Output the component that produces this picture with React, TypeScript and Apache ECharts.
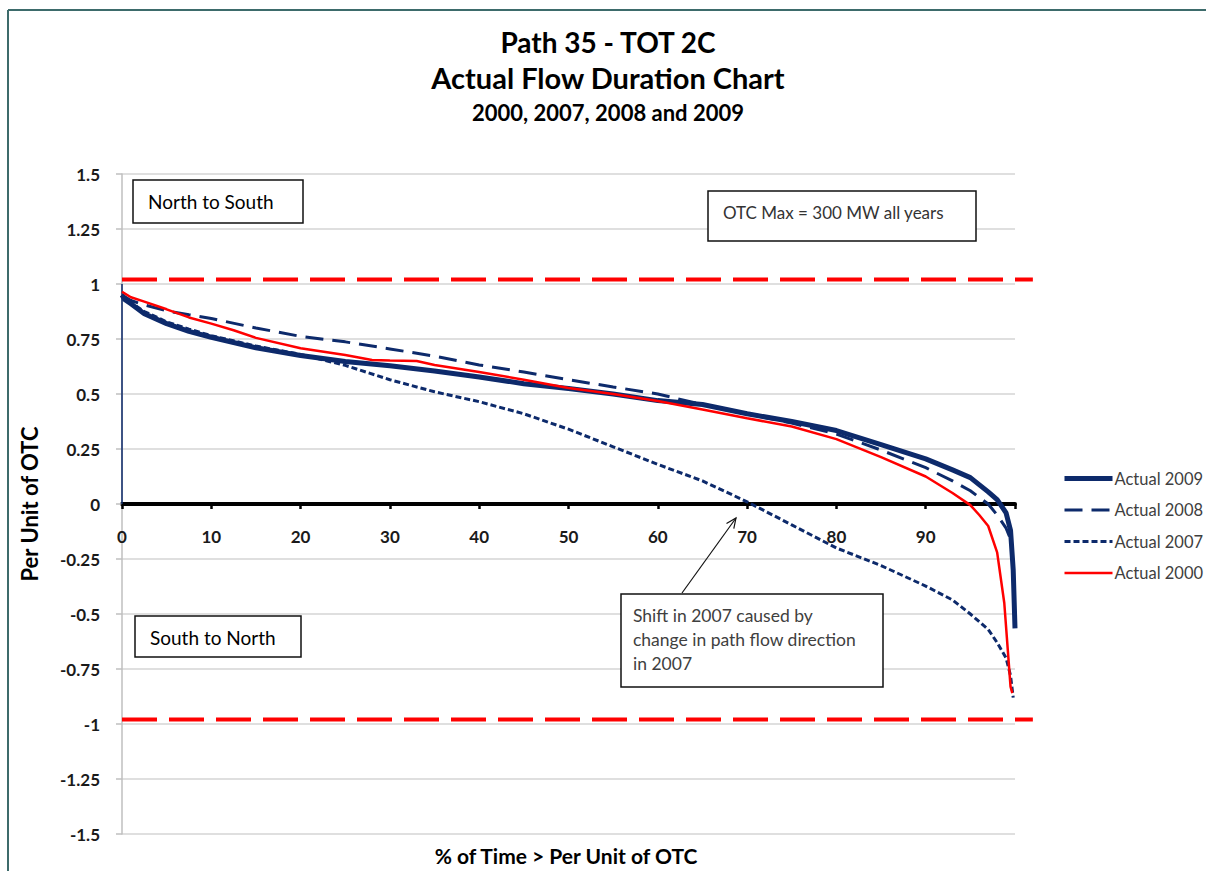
import React, { useEffect, useRef } from "react";
import * as echarts from "echarts";

// ---- data ----
const limitX = [0, 102];
const upperLimitY = [1.02, 1.02];
const lowerLimitY = [-0.98, -0.98];
const edgeX = [0, 0];
const edgeY = [0, 1.0];

const x2009 = [0, 0.3, 1, 2.5, 5, 7.5, 10, 15, 20, 25, 30, 35, 40, 45, 50, 55, 60, 65, 70, 75, 80, 85, 90, 93, 95, 97, 98, 99, 99.5, 99.8, 100];
const y2009 = [0.95, 0.93, 0.91, 0.865, 0.82, 0.785, 0.758, 0.71, 0.675, 0.648, 0.628, 0.605, 0.577, 0.547, 0.525, 0.5, 0.47, 0.452, 0.41, 0.375, 0.334, 0.27, 0.205, 0.155, 0.12, 0.055, 0.02, -0.04, -0.12, -0.3, -0.565];

const x2008 = [0, 1, 2.5, 5, 7.5, 10, 15, 20, 25, 30, 35, 40, 45, 50, 55, 60, 65, 70, 75, 80, 85, 90, 93, 95, 97, 98, 99, 99.5];
const y2008 = [0.95, 0.925, 0.905, 0.878, 0.86, 0.843, 0.8, 0.762, 0.737, 0.705, 0.672, 0.632, 0.6, 0.565, 0.532, 0.5, 0.452, 0.41, 0.368, 0.318, 0.245, 0.165, 0.105, 0.06, 0.0, -0.05, -0.11, -0.16];

const x2007 = [0, 1, 2.5, 5, 7.5, 10, 15, 20, 25, 30, 35, 40, 45, 50, 55, 60, 65, 70, 75, 80, 85, 90, 93, 95, 97, 98, 99, 99.5, 99.8];
const y2007 = [0.95, 0.915, 0.875, 0.828, 0.795, 0.765, 0.718, 0.68, 0.63, 0.565, 0.51, 0.465, 0.41, 0.34, 0.26, 0.18, 0.105, 0.01, -0.095, -0.2, -0.28, -0.373, -0.436, -0.5, -0.57, -0.63, -0.7, -0.78, -0.88];

const x2000 = [0, 1, 2.5, 5, 7.5, 10, 12.5, 15, 20, 25, 28, 30, 33, 35, 40, 45, 50, 55, 60, 65, 70, 75, 80, 85, 90, 93, 95, 96, 97, 98, 98.8, 99.5, 99.7];
const y2000 = [0.965, 0.94, 0.92, 0.885, 0.848, 0.82, 0.79, 0.755, 0.708, 0.677, 0.655, 0.652, 0.65, 0.632, 0.6, 0.565, 0.527, 0.5, 0.468, 0.43, 0.39, 0.352, 0.295, 0.213, 0.125, 0.05, -0.005, -0.05, -0.1, -0.22, -0.45, -0.83, -0.86];

const seriesNames = ["Actual 2009", "Actual 2008", "Actual 2007", "Actual 2000"];
const legendWidths = [5, 3, 3, 2.5];

const titleLines = ["Path 35 - TOT 2C", "Actual Flow Duration Chart", "2000, 2007, 2008 and 2009"];
const yAxisTitle = "Per Unit of OTC";
const xAxisTitle = "% of Time > Per Unit of OTC";
const noteNorth = "North to South";
const noteSouth = "South to North";
const noteOtc = "OTC Max = 300 MW all years";
const noteShift = ["Shift in 2007 caused by", "change in path flow direction", "in 2007"];

const pairs = (xs: number[], ys: number[]) => xs.map((x, i) => [x, ys[i]]);

const NAVY = "#0d2a6b";
const RED = "#ff0000";
const FONT = "Lato";

function txt(text: string, x: number, y: number, size: number, weight: string, align: string, color = "#000", extra: any = {}) {
  return {
    type: "text",
    x,
    y,
    silent: true,
    ...extra,
    style: {
      text,
      fontFamily: FONT,
      fontSize: size,
      fontWeight: weight,
      fill: color,
      textAlign: align,
      align,
      textVerticalAlign: "middle",
      verticalAlign: "middle",
    },
  };
}

function box(x: number, y: number, w: number, h: number) {
  return {
    type: "rect",
    silent: true,
    shape: { x, y, width: w, height: h },
    style: { fill: "#fff", stroke: "#111", lineWidth: 1.5 },
    z: 10,
  };
}

// arrow from box to crossing point
const arrowFrom = [682, 593];
const arrowTo = [736, 518];
const ax = arrowTo[0] - arrowFrom[0];
const ay = arrowTo[1] - arrowFrom[1];
const alen = Math.sqrt(ax * ax + ay * ay);
const ux = ax / alen;
const uy = ay / alen;
const headBase = [arrowTo[0] - 10 * ux, arrowTo[1] - 10 * uy];
const headL = [headBase[0] - 4.5 * uy, headBase[1] + 4.5 * ux];
const headR = [headBase[0] + 4.5 * uy, headBase[1] - 4.5 * ux];

const staticGraphic: any[] = [
  { type: "line", silent: true, shape: { x1: 8, y1: 10, x2: 1206, y2: 10 }, style: { stroke: "#3d6b6b", lineWidth: 2 } },
  { type: "line", silent: true, shape: { x1: 8, y1: 10, x2: 8, y2: 871 }, style: { stroke: "#3d6b6b", lineWidth: 2 } },
  txt(titleLines[0], 608, 42, 28, "bold", "center"),
  txt(titleLines[1], 608, 77, 29, "bold", "center"),
  txt(titleLines[2], 608, 112, 22, "bold", "center"),
  txt(yAxisTitle, 29, 504, 22, "bold", "center", "#000", { rotation: Math.PI / 2 }),
  txt(xAxisTitle, 566, 855, 21, "bold", "center"),
  box(133, 180, 170, 43),
  txt(noteNorth, 148, 201, 19, "normal", "left", "#000", { z: 11 }),
  box(708, 191, 268, 50),
  txt(noteOtc, 723, 212, 17, "normal", "left", "#333", { z: 11 }),
  box(135, 616, 166, 41),
  txt(noteSouth, 150, 637, 19, "normal", "left", "#000", { z: 11 }),
  box(621, 594, 262, 93),
  txt(noteShift[0], 633, 615, 17.5, "normal", "left", "#404040", { z: 11 }),
  txt(noteShift[1], 633, 639, 17.5, "normal", "left", "#404040", { z: 11 }),
  txt(noteShift[2], 633, 663, 17.5, "normal", "left", "#404040", { z: 11 }),
  {
    type: "line",
    silent: true,
    shape: { x1: arrowFrom[0], y1: arrowFrom[1], x2: arrowTo[0], y2: arrowTo[1] },
    style: { stroke: "#111", lineWidth: 1.2 },
    z: 11,
  },
  {
    type: "polyline",
    silent: true,
    shape: { points: [headL, arrowTo, headR] },
    style: { stroke: "#111", lineWidth: 1.2, fill: null },
    z: 11,
  },
];

const option: any = {
  animation: false,
  backgroundColor: "#fff",
  grid: { left: 122, right: 191, top: 174, bottom: 37, containLabel: false },
  legend: {
    data: seriesNames.map((name, i) => ({ name, lineStyle: { width: legendWidths[i] } })),
    orient: "vertical",
    left: 1062,
    top: 470,
    padding: 0,
    itemWidth: 48,
    itemHeight: 14,
    itemGap: 14.5,
    itemStyle: { opacity: 0 },
    textStyle: { fontFamily: FONT, fontSize: 16.5, color: "#404040", padding: [0, 0, 0, -3] },
  },
  xAxis: {
    type: "value",
    min: 0,
    max: 100,
    interval: 10,
    axisLine: { show: true, onZero: true, lineStyle: { color: "#000", width: 4 } },
    axisTick: { show: true, length: 5, lineStyle: { color: "#000", width: 2.5 } },
    axisLabel: {
      margin: -306,
      fontFamily: FONT,
      fontWeight: "bold",
      fontSize: 17,
      color: "#1a1a1a",
      formatter: (v: number) => (v === 100 ? "" : String(v)),
    },
    splitLine: { show: false },
  },
  yAxis: {
    type: "value",
    min: -1.5,
    max: 1.5,
    interval: 0.25,
    axisLine: { show: true, onZero: false, lineStyle: { color: "#bfbfbf", width: 1.5 } },
    axisTick: { show: true, length: 6, lineStyle: { color: "#bfbfbf", width: 1.5 } },
    axisLabel: { margin: 22, fontFamily: FONT, fontWeight: "bold", fontSize: 17, color: "#1a1a1a" },
    splitLine: { show: true, lineStyle: { color: "#d4d4d4", width: 1.5 } },
  },
  series: [
    {
      name: "edge",
      type: "line",
      data: pairs(edgeX, edgeY),
      symbol: "none",
      silent: true,
      lineStyle: { color: NAVY, width: 1.5 },
    },
    {
      name: seriesNames[0],
      type: "line",
      data: pairs(x2009, y2009),
      symbol: "none",
      clip: false,
      lineStyle: { color: NAVY, width: 5 },
      itemStyle: { color: NAVY },
    },
    {
      name: seriesNames[1],
      type: "line",
      data: pairs(x2008, y2008),
      symbol: "none",
      clip: false,
      lineStyle: { color: NAVY, width: 3, type: [18, 9] },
      itemStyle: { color: NAVY },
    },
    {
      name: seriesNames[2],
      type: "line",
      data: pairs(x2007, y2007),
      symbol: "none",
      clip: false,
      lineStyle: { color: NAVY, width: 3, type: [6, 3] },
      itemStyle: { color: NAVY },
    },
    {
      name: seriesNames[3],
      type: "line",
      data: pairs(x2000, y2000),
      symbol: "none",
      clip: false,
      lineStyle: { color: RED, width: 2.5 },
      itemStyle: { color: RED },
    },
  ],
  graphic: staticGraphic,
};

export default function App() {
  const ref = useRef<HTMLDivElement>(null);
  useEffect(() => {
    const chart = echarts.init(ref.current!, null, { renderer: "svg", width: 1206, height: 871 });
    chart.setOption(option);
    // limit lines (extend beyond the plot like the original), placed through the chart's own scales
    const limitLine = (ys: number[]) => {
      const p1 = chart.convertToPixel({ gridIndex: 0 }, [limitX[0], ys[0]]) as number[];
      const p2 = chart.convertToPixel({ gridIndex: 0 }, [limitX[1], ys[1]]) as number[];
      return {
        type: "line",
        silent: true,
        z: 1,
        shape: { x1: p1[0], y1: p1[1], x2: p2[0], y2: p2[1] },
        style: { stroke: RED, lineWidth: 4, lineDash: [35, 12] },
      };
    };
    chart.setOption({
      graphic: [...staticGraphic, limitLine(upperLimitY), limitLine(lowerLimitY)],
    });
    return () => chart.dispose();
  }, []);
  return (
    <div
      ref={ref}
      style={{ position: "fixed", left: 0, top: 0, width: 1206, height: 871, background: "#fff" }}
    />
  );
}
